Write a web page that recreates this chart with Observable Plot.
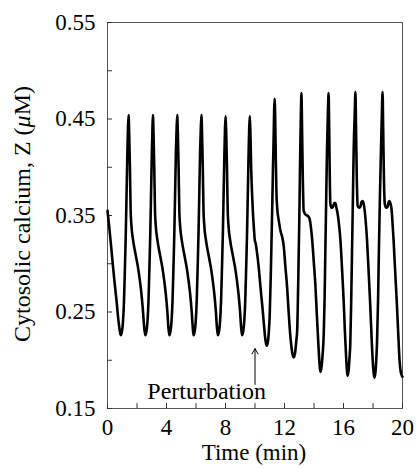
<!DOCTYPE html>
<html><head><meta charset="utf-8">
<script src="https://cdn.jsdelivr.net/npm/d3@7"></script>
<script src="https://cdn.jsdelivr.net/npm/@observablehq/plot@0.6"></script>
<style>body{margin:0;background:#fff} svg{font-family:"Liberation Serif",serif}</style>
</head><body><div id="chart"></div><script>
// [time (min), cytosolic calcium Z (µM)]
const series = [
 [0,.355],[0.12,.338],[0.27,.314],[0.45,.285],[0.61,.262],[0.75,.240],[0.84,.230],[0.9,.226],
 [0.97,.229],[1.05,.240],[1.12,.262],[1.18,.295],[1.24,.331],[1.30,.378],[1.35,.417],[1.39,.442],[1.43,.454],
 [1.47,.435],[1.52,.40],[1.57,.355],[1.62,.340],[1.74,.324],[1.9,.31],[2.07,.296],[2.2,.282],[2.3,.269],[2.41,.250],[2.49,.234],[2.56,.226],
 [2.63,.229],[2.71,.240],[2.78,.262],[2.84,.295],[2.90,.331],[2.96,.378],[3.01,.417],[3.05,.442],[3.08,.454],
 [3.12,.435],[3.17,.40],[3.22,.355],[3.27,.340],[3.39,.324],[3.55,.31],[3.72,.296],[3.85,.282],[3.95,.269],[4.06,.250],[4.13,.234],[4.19,.226],
 [4.26,.229],[4.34,.240],[4.41,.262],[4.47,.295],[4.53,.331],[4.59,.378],[4.64,.417],[4.69,.442],[4.73,.454],
 [4.77,.435],[4.82,.40],[4.87,.355],[4.92,.340],[5.04,.324],[5.2,.31],[5.37,.296],[5.5,.282],[5.6,.269],[5.71,.250],[5.78,.234],[5.83,.226],
 [5.90,.229],[5.98,.240],[6.05,.262],[6.11,.295],[6.17,.331],[6.23,.378],[6.28,.417],[6.33,.442],[6.37,.454],
 [6.41,.435],[6.46,.40],[6.51,.355],[6.56,.340],[6.68,.324],[6.84,.31],[7.01,.296],[7.14,.282],[7.24,.269],[7.35,.250],[7.42,.234],[7.48,.226],
 [7.55,.229],[7.63,.240],[7.70,.262],[7.76,.295],[7.82,.331],[7.88,.378],[7.93,.417],[7.97,.442],[8.01,.453],
 [8.05,.435],[8.10,.40],[8.15,.355],[8.20,.340],[8.32,.324],[8.48,.31],[8.65,.296],[8.78,.282],[8.88,.269],[8.99,.250],[9.06,.234],[9.12,.226],
 [9.19,.229],[9.27,.240],[9.34,.262],[9.40,.295],[9.46,.331],[9.52,.378],[9.57,.417],[9.61,.442],[9.65,.453],
 [9.69,.435],[9.74,.40],[9.81,.369],[9.87,.350],[9.92,.338],[9.99,.324],[10.03,.322],[10.15,.310],[10.26,.295],[10.37,.276],[10.49,.257],[10.6,.238],[10.7,.222],[10.78,.215],
 [10.86,.218],[10.94,.230],[11.0,.248],[11.08,.295],[11.16,.352],[11.22,.400],[11.27,.435],[11.3,.46],[11.33,.471],
 [11.37,.45],[11.41,.41],[11.45,.376],[11.52,.355],[11.61,.345],[11.73,.334],[11.84,.328],[11.95,.318],[12.06,.297],[12.18,.275],[12.29,.248],[12.38,.228],[12.47,.214],[12.56,.205],[12.63,.203],
 [12.72,.208],[12.8,.220],[12.86,.231],[12.93,.280],[13.01,.352],[13.07,.420],[13.11,.455],[13.15,.477],
 [13.19,.44],[13.24,.39],[13.3,.355],[13.42,.351],[13.53,.350],[13.62,.349],[13.71,.346],[13.79,.338],[13.87,.326],[13.98,.303],[14.09,.279],[14.2,.245],[14.32,.210],[14.38,.195],[14.43,.188],
 [14.5,.192],[14.58,.205],[14.66,.227],[14.72,.265],[14.77,.314],[14.83,.370],[14.88,.417],[14.94,.455],[14.99,.477],
 [15.03,.44],[15.07,.39],[15.11,.362],[15.2,.358],[15.29,.359],[15.37,.363],[15.45,.363],[15.52,.358],[15.6,.352],[15.7,.340],[15.79,.325],[15.9,.295],[16.01,.262],[16.1,.228],[16.19,.200],[16.24,.188],[16.28,.184],
 [16.35,.190],[16.41,.203],[16.46,.217],[16.52,.260],[16.58,.314],[16.64,.370],[16.69,.417],[16.76,.455],[16.81,.478],
 [16.85,.44],[16.9,.39],[16.96,.360],[17.05,.358],[17.14,.359],[17.22,.364],[17.3,.365],[17.37,.362],[17.43,.356],[17.51,.343],[17.59,.326],[17.7,.293],[17.81,.258],[17.9,.225],[18.0,.195],[18.06,.185],[18.11,.182],
 [18.18,.190],[18.23,.203],[18.27,.217],[18.34,.260],[18.4,.314],[18.47,.370],[18.54,.417],[18.6,.455],[18.65,.478],
 [18.69,.44],[18.74,.39],[18.8,.362],[18.9,.358],[18.99,.359],[19.06,.364],[19.12,.365],[19.19,.362],[19.26,.356],[19.32,.343],[19.39,.326],[19.5,.293],[19.62,.258],[19.71,.228],[19.8,.200],[19.88,.188],[19.96,.184],[20.0,.183]
];
const xTicks = [0,2,4,6,8,10,12,14,16,18,20];
const xLabels = [0,4,8,12,16,20];
const yTicks = [0.15,0.20,0.25,0.30,0.35,0.40,0.45,0.50,0.55];
const yLabels = [0.15,0.25,0.35,0.45,0.55];
const perturbText = ["Perturbation"];
const perturbTextPos = [6.72, 0.168];
const perturbArrow = [10, 0.175, 10, 0.212];
const xTitle = "Time (min)";
const yTitleParts = ["Cytosolic calcium, Z (", "\u03bc", "M)"];

const rows = series.map(([t, z]) => ({t, z}));
const chart = Plot.plot({
  width: 416, height: 468,
  marginLeft: 107, marginRight: 14, marginTop: 22, marginBottom: 60,
  style: {fontFamily: "Liberation Serif", fontSize: "23px", color: "#000", background: "#fff"},
  x: {domain: [0, 20]},
  y: {domain: [0.15, 0.55]},
  marks: [
    Plot.frame({stroke: "#555"}),
    Plot.axisX({ticks: xTicks, tickSize: -5, tickPadding: 15, stroke: "#333",
      tickFormat: d => xLabels.includes(d) ? String(d) : "", label: null}),
    Plot.axisY({ticks: yTicks, tickSize: -5, tickPadding: 17, stroke: "#333",
      tickFormat: d => yLabels.some(v => Math.abs(v - d) < 1e-9) ? d.toFixed(2) : "", label: null}),
    Plot.line(rows, {x: "t", y: "z", stroke: "#000", strokeWidth: 2.6, curve: "monotone-x"}),
    Plot.arrow([perturbArrow], {x1: d => d[0], y1: d => d[1], x2: d => d[2], y2: d => d[3],
      stroke: "#000", strokeWidth: 1, headLength: 9}),
    Plot.text(perturbText, {x: perturbTextPos[0], y: perturbTextPos[1], text: d => d, fontSize: 24, fill: "#000"})
  ]
});
document.getElementById("chart").append(chart);
const svg = d3.select(chart);
svg.append("text").attr("x", 254).attr("y", 460).attr("text-anchor", "middle")
  .attr("font-size", 23).attr("fill", "#000").text(xTitle);
const yt = svg.append("text").attr("transform", "translate(30,214) rotate(-90)")
  .attr("text-anchor", "middle").attr("font-size", 24).attr("fill", "#000");
yt.append("tspan").text(yTitleParts[0]);
yt.append("tspan").attr("font-style", "italic").text(yTitleParts[1]);
yt.append("tspan").text(yTitleParts[2]);
</script></body></html>
